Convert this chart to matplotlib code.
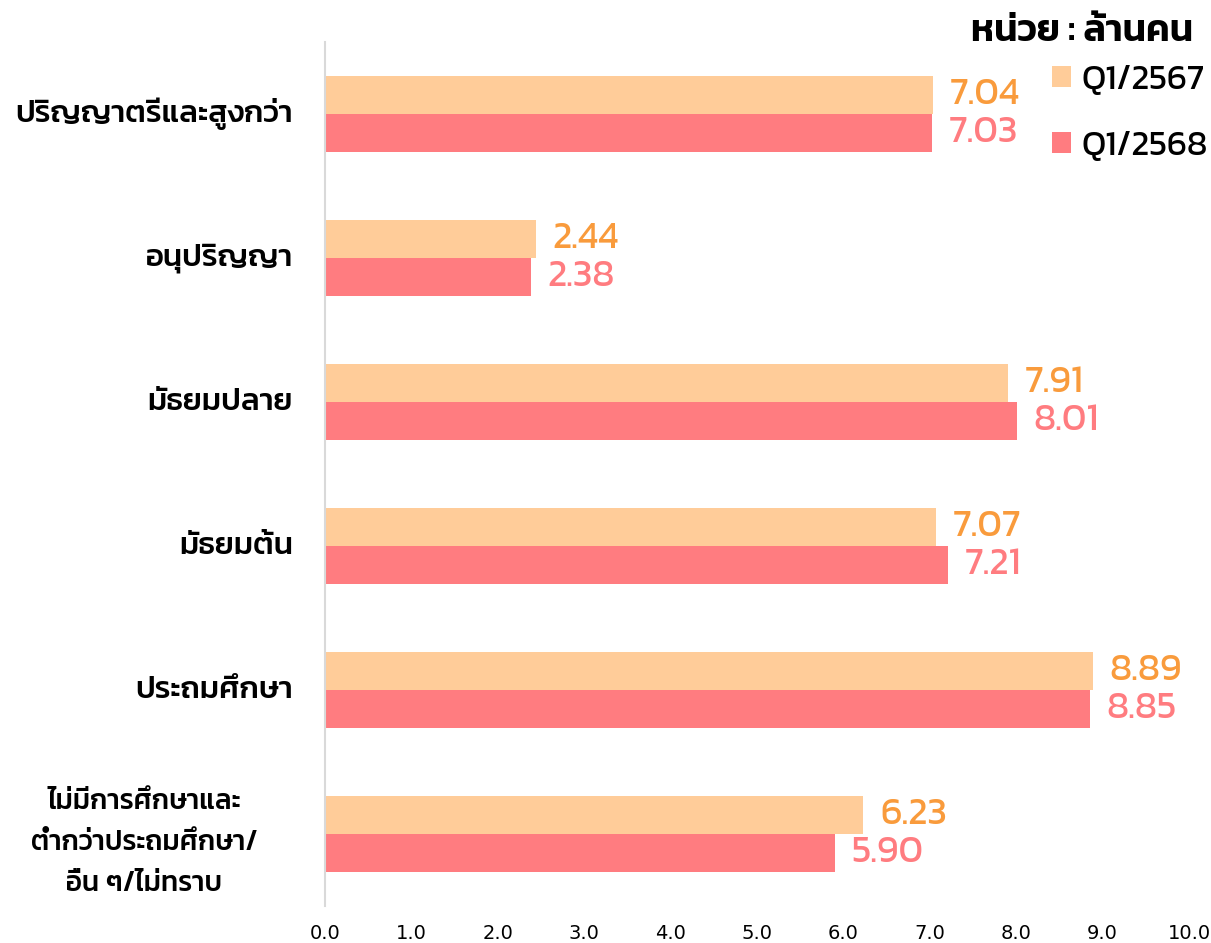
import numpy as np
import matplotlib
matplotlib.use("Agg")
import matplotlib.pyplot as plt

# data (ล้านคน)
categories = ["ปริญญาตรีและสูงกว่า", "อนุปริญญา", "มัธยมปลาย", "มัธยมต้น", "ประถมศึกษา",
              "ไม่มีการศึกษาและ\nต่ำกว่าประถมศึกษา/\nอื่น ๆ/ไม่ทราบ"]
q1_2567 = [7.04, 2.44, 7.91, 7.07, 8.89, 6.23]
q1_2568 = [7.03, 2.38, 8.01, 7.21, 8.85, 5.90]
series_names = ["Q1/2567", "Q1/2568"]
xticks = np.arange(0, 10.1, 1.0)

c_light = "#FFCC99"
c_pink = "#FF7C80"
c_lbl_orange = "#F99B3C"

plt.rcParams["font.family"] = ["Kanit", "DejaVu Sans"]

fig = plt.figure(figsize=(12.11, 9.43), dpi=100)
ax = fig.add_axes([325 / 1211, 1 - 906 / 943, 864 / 1211, 864 / 943])

y = np.arange(len(categories))
h = 0.264
b1 = ax.barh(y - h / 2, q1_2567, height=h, color=c_light, label=series_names[0])
b2 = ax.barh(y + h / 2, q1_2568, height=h, color=c_pink, label=series_names[1])
ax.bar_label(b1, fmt="%.2f", padding=12, color=c_lbl_orange, fontsize=27, fontweight=400)
ax.bar_label(b2, fmt="%.2f", padding=12, color=c_pink, fontsize=27, fontweight=400)

ax.set_ylim(len(categories) - 0.5, -0.5)
ax.set_xlim(0, 10)
ax.set_xticks(xticks)
ax.set_xticklabels(["%.1f" % v for v in xticks], fontsize=14, family="Liberation Sans Narrow")
ax.set_yticks(y)
ax.set_yticklabels([])
for i, c in enumerate(categories):
    if "\n" in c:
        ax.text(-2.095, i + 0.06, c, ha="center", va="center", fontsize=20, fontweight=500,
                linespacing=1.75)
    else:
        ax.text(-0.37, i, c, ha="right", va="center", fontsize=22.5, fontweight=500)
ax.tick_params(length=0)
ax.tick_params(axis="x", pad=13)
for s in ["top", "right", "bottom"]:
    ax.spines[s].set_visible(False)
ax.spines["left"].set_color("#D9D9D9")
ax.spines["left"].set_linewidth(1.5)

fig.text(0.985, 0.966, "หน่วย : ล้านคน", ha="right", va="center", fontsize=27, fontweight=600)
ax.legend(loc="upper left", bbox_to_anchor=(1052 / 1211, 1 - 65 / 943), bbox_transform=fig.transFigure,
          frameon=False, fontsize=25, handlelength=0.55, handleheight=0.55, handletextpad=0.3,
          labelspacing=1.0, borderaxespad=0, borderpad=0)

fig.savefig("out.png")
